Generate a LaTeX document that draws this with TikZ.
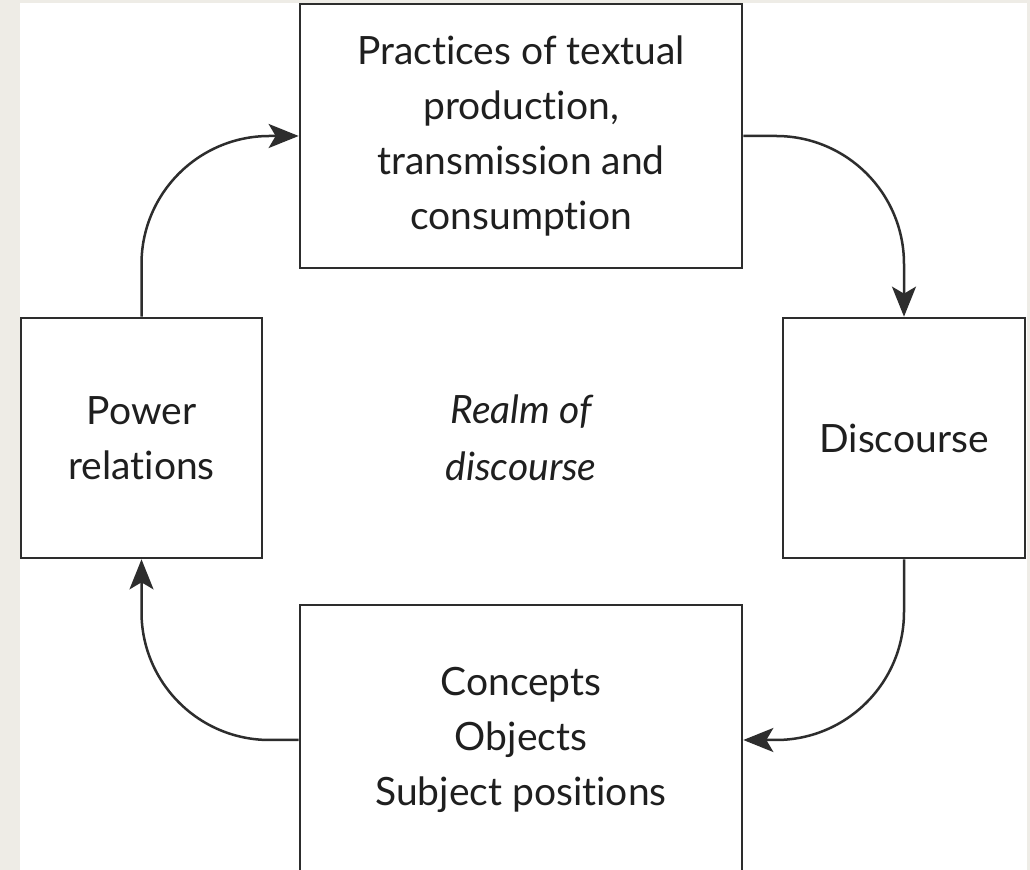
\documentclass[tikz,border=0pt]{standalone}
\usepackage{fontspec}
\setmainfont{Lato}[Ligatures={NoCommon,NoRequired}]
\usepackage{xcolor}
\usepackage{tikz}
\usetikzlibrary{arrows.meta, positioning}

\definecolor{pagebg}{RGB}{238,236,230}
\definecolor{ink}{RGB}{45,45,45}

\begin{document}
\begin{tikzpicture}[x=0.5pt, y=-0.5pt,
    box/.style={draw=ink, line width=1.35pt, fill=white, align=center, inner sep=0pt,
        text=black!88, font=\fontsize{19.5}{27.5}\selectfont},
    flow/.style={draw=ink, line width=1.25pt, rounded corners=64pt,
        -{Stealth[length=15pt, width=12pt, inset=3.5pt]}}]
    % page and sheet
    \fill[pagebg] (0,0) rectangle (1030,870);
    \fill[white] (20,3) rectangle (1027,870);
    \useasboundingbox (0,0) rectangle (1030,870);

    \node[box, minimum width=221pt, minimum height=132pt] (practices) at (521,136)
        {Practices of textual\\production,\\transmission and\\consumption};
    \node[box, minimum width=120.5pt, minimum height=120pt] (power) at (141.5,438)
        {Power\\relations};
    \node[box, minimum width=121pt, minimum height=120pt] (discourse) at (904,438)
        {Discourse};
    \node[box, minimum width=221pt, minimum height=135pt] (concepts) at (521,740)
        {Concepts\\Objects\\Subject positions};
    \node[align=center, text=black!88, font=\fontsize{19.5}{28.5}\selectfont\itshape] (realm) at (521,438)
        {Realm of\\discourse};

    % cycle of arrows
    \draw[flow] (power.north) |- (practices.west);
    \draw[flow] (practices.east) -| (discourse.north);
    \draw[flow] (discourse.south) |- (concepts.east);
    \draw[flow] (concepts.west) -| (power.south);
\end{tikzpicture}
\end{document}
